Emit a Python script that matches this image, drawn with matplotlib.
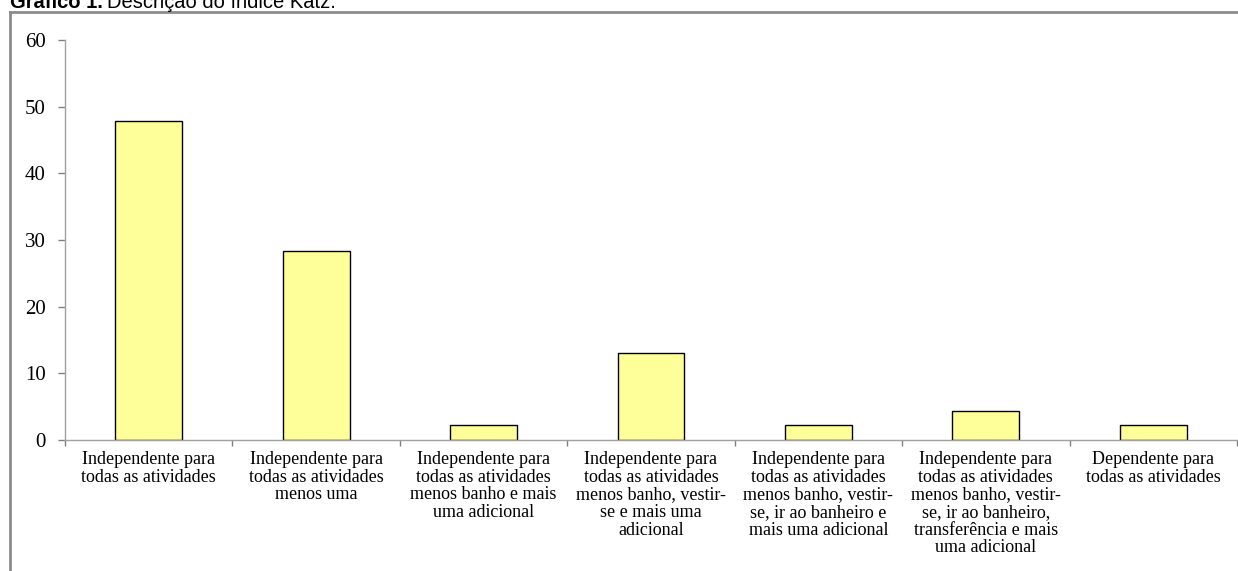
import matplotlib
matplotlib.use("Agg")
import matplotlib.pyplot as plt
import numpy as np

# data (percent of 46 people)
categorias = [
    "Independente para\ntodas as atividades",
    "Independente para\ntodas as atividades\nmenos uma",
    "Independente para\ntodas as atividades\nmenos banho e mais\numa adicional",
    "Independente para\ntodas as atividades\nmenos banho, vestir-\nse e mais uma\nadicional",
    "Independente para\ntodas as atividades\nmenos banho, vestir-\nse, ir ao banheiro e\nmais uma adicional",
    "Independente para\ntodas as atividades\nmenos banho, vestir-\nse, ir ao banheiro,\ntransferência e mais\numa adicional",
    "Dependente para\ntodas as atividades",
]
percentuais = [47.8, 28.3, 2.2, 13.0, 2.2, 4.3, 2.2]
y_ticks = [0, 10, 20, 30, 40, 50, 60]

W, H = 1238, 571
fig = plt.figure(figsize=(W / 100, H / 100), dpi=100)

# outer frame (left and top edges visible)
frame_col = "#8c8c8c"
fig.add_artist(plt.Line2D([10 / W, 10 / W], [0, 1 - 12 / H], color=frame_col, lw=2,
                          transform=fig.transFigure))
fig.add_artist(plt.Line2D([10 / W, 1], [1 - 12 / H, 1 - 12 / H], color=frame_col, lw=2,
                          transform=fig.transFigure))

ax = fig.add_axes([65 / W, 1 - 440 / H, (1237 - 65) / W, 400 / H])
x = np.arange(len(categorias))
ax.bar(x, percentuais, width=0.4, color="#FFFF99", edgecolor="black", linewidth=1)

ax.set_xlim(-0.5, len(categorias) - 0.5)
ax.set_ylim(0, 60)
ax.set_yticks(y_ticks)
ax.set_yticklabels([str(v) for v in y_ticks], family="Liberation Serif", fontsize=15)
ax.tick_params(axis="y", length=5, width=1, color="#808080", pad=9)

ax.set_xticks(x)
ax.set_xticklabels(categorias, family="Liberation Serif", fontsize=13, linespacing=1.05)
ax.set_xticks(np.arange(len(categorias) + 1) - 0.5, minor=True)
ax.tick_params(axis="x", which="major", length=0, pad=8)
ax.tick_params(axis="x", which="minor", length=4, width=1, color="#808080")

for s in ["top", "right"]:
    ax.spines[s].set_visible(False)
for s in ["left", "bottom"]:
    ax.spines[s].set_color("#a0a0a0")
    ax.spines[s].set_linewidth(1)

# title, cut at the top of the page like the original
fig.canvas.draw()
t1 = fig.text(10 / W, 1 - 8 / H, "Gráfico 1.", family="Liberation Sans", fontsize=14.5,
              weight="bold", va="baseline", ha="left")
fig.canvas.draw()
bb = t1.get_window_extent()
fig.text((bb.x1 + 4) / W, 1 - 8 / H, "Descrição do índice Katz.", family="Liberation Sans",
         fontsize=14.5, va="baseline", ha="left")

fig.savefig("out.png", dpi=100)
